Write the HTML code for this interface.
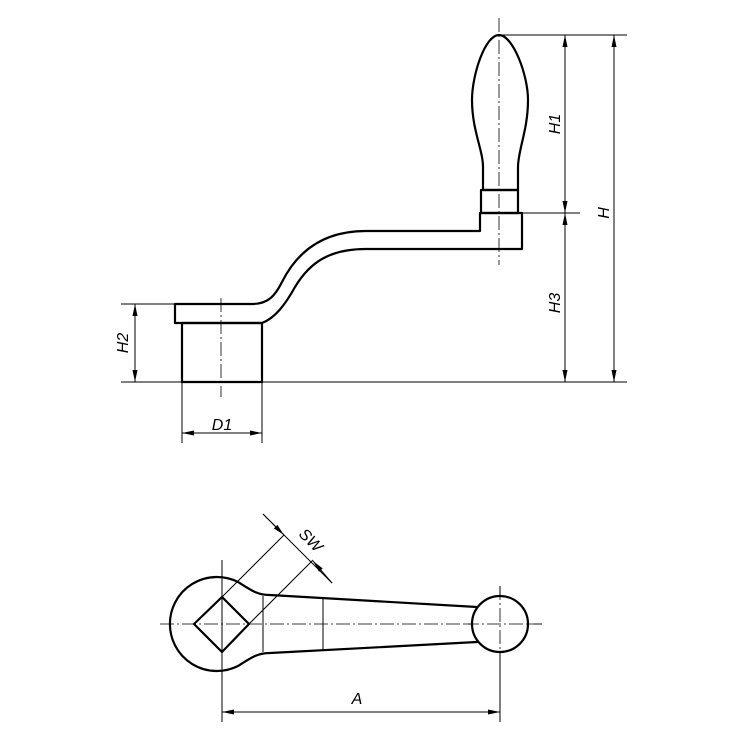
<!DOCTYPE html>
<html><head><meta charset="utf-8"><style>
html,body{margin:0;padding:0;background:#fff;}
svg{display:block;}
text{font-family:"Liberation Sans",sans-serif;font-style:italic;font-size:16px;fill:#000;}
</style></head><body>
<svg width="750" height="736" viewBox="0 0 750 736" xmlns="http://www.w3.org/2000/svg">
<defs>
<marker id="a" viewBox="0 0 12 5" refX="12" refY="2.5" markerWidth="12" markerHeight="5" orient="auto-start-reverse" markerUnits="userSpaceOnUse"><path d="M0,0 L12,2.5 L0,5 z" fill="#000"/></marker>
</defs>
<g fill="none" stroke="#000" stroke-linejoin="round">
<g stroke-width="0.8" stroke-dasharray="14,3,2,3">
<line x1="499" y1="18" x2="499" y2="265"/>
<line x1="221" y1="298" x2="221" y2="397"/>
<line x1="160" y1="624" x2="542" y2="624"/>
</g>
<path stroke-width="2.2" d="M499,35 C485,35 472,75 472,100 C472,130 483,150 483,167 L483,190 L518,190 L518,167 C518,150 528,130 528,100 C528,75 513,35 499,35 Z"/>
<rect stroke-width="2.2" x="481" y="190" width="37" height="23"/>
<path stroke-width="2.2" d="M175,304 L252,304 C268,304 275,296 282,282 C298,250 325,231 366,231 L480,231 L480,213 L522,213 L522,249 L366,249 C330,249 310,262 295,287 C285,305 275,318 262,323 L175,323 Z"/>
<rect stroke-width="2.2" x="182" y="323" width="80" height="59"/>
<g stroke-width="1">
<line x1="262" y1="382" x2="627" y2="382"/>
<line x1="121" y1="382" x2="182" y2="382"/>
<line x1="121" y1="304" x2="175" y2="304"/>
<line x1="499" y1="35" x2="627" y2="35"/>
<line x1="522" y1="213" x2="580" y2="213"/>
<line x1="182" y1="382" x2="182" y2="443"/>
<line x1="262" y1="382" x2="262" y2="443"/>
<line x1="135" y1="304" x2="135" y2="382" marker-start="url(#a)" marker-end="url(#a)"/>
<line x1="182" y1="433" x2="262" y2="433" marker-start="url(#a)" marker-end="url(#a)"/>
<line x1="565" y1="35" x2="565" y2="213" marker-start="url(#a)" marker-end="url(#a)"/>
<line x1="565" y1="213" x2="565" y2="382" marker-start="url(#a)" marker-end="url(#a)"/>
<line x1="614" y1="35" x2="614" y2="382" marker-start="url(#a)" marker-end="url(#a)"/>
</g>
<g stroke-width="1">
<line x1="222" y1="560" x2="222" y2="722"/>
<line x1="500" y1="586" x2="500" y2="722"/>
<line x1="222" y1="712" x2="500" y2="712" marker-start="url(#a)" marker-end="url(#a)"/>
<line x1="222" y1="597" x2="284" y2="535"/>
<line x1="249" y1="624" x2="313" y2="560"/>
<line x1="263" y1="514" x2="332" y2="583"/>
<line x1="263" y1="514" x2="284" y2="535" marker-end="url(#a)"/>
<line x1="332" y1="583" x2="313" y2="561" marker-end="url(#a)"/>
<line x1="263" y1="596" x2="263" y2="652"/>
<line x1="323" y1="599" x2="323" y2="650"/>
</g>
<path stroke-width="2.2" d="M238,582 C252,591 258,595 270,595 L477,607 L477,642 L270,653 C258,653 252,657 238,666 A47,47 0 1 1 238,582 Z"/>
<circle stroke-width="2.2" cx="500" cy="624" r="28" fill="#fff"/>
<line x1="500" y1="586" x2="500" y2="662" stroke-width="0.8" stroke-dasharray="14,3,2,3"/>
<line x1="465" y1="624" x2="542" y2="624" stroke-width="0.8" stroke-dasharray="14,3,2,3"/>
<path stroke-width="2.2" d="M194,624 L222,597 L249,624 L222,652 Z"/>
</g>
<text x="0" y="0" transform="translate(128,343) rotate(-90)" text-anchor="middle">H2</text>
<text x="222" y="430" text-anchor="middle">D1</text>
<text x="0" y="0" transform="translate(560,124) rotate(-90)" text-anchor="middle">H1</text>
<text x="0" y="0" transform="translate(560,303) rotate(-90)" text-anchor="middle">H3</text>
<text x="0" y="0" transform="translate(609,213) rotate(-90)" text-anchor="middle">H</text>
<text x="357" y="704" text-anchor="middle">A</text>
<text x="0" y="0" transform="translate(307,544) rotate(45)" text-anchor="middle">SW</text>
</svg>
</body></html>
